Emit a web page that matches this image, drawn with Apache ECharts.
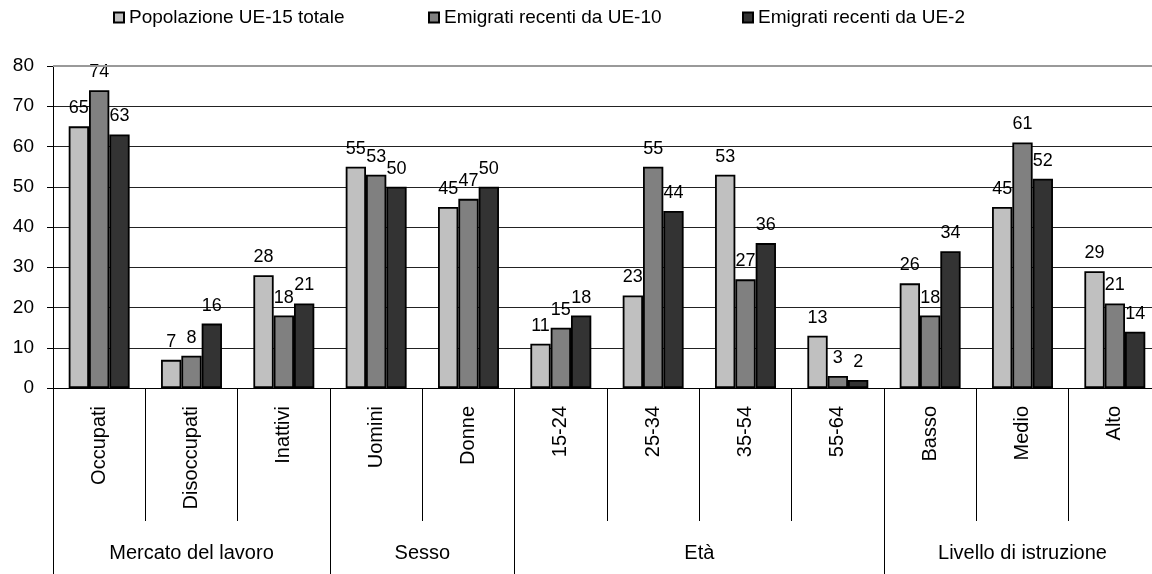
<!DOCTYPE html>
<html>
<head>
<meta charset="utf-8">
<script src="https://cdn.jsdelivr.net/npm/echarts@6/dist/echarts.min.js"></script>
<style>
html,body{margin:0;padding:0;background:#fff;}
#chart{width:1152px;height:574px;}
</style>
</head>
<body>
<div id="chart"></div>
<script>
// ---- data ----
var categories = ['Occupati','Disoccupati','Inattivi','Uomini','Donne','15-24','25-34','35-54','55-64','Basso','Medio','Alto'];
var groupNames = ['Mercato del lavoro','Sesso','Età','Livello di istruzione'];
var groupSizes = [3, 2, 4, 3];
var seriesNames = ['Popolazione UE-15 totale','Emigrati recenti da UE-10','Emigrati recenti da UE-2'];
var popUE15 = [65, 7, 28, 55, 45, 11, 23, 53, 13, 26, 45, 29];
var emigUE10 = [74, 8, 18, 53, 47, 15, 55, 27, 3, 18, 61, 21];
var emigUE2 = [63, 16, 21, 50, 50, 18, 44, 36, 2, 34, 52, 14];
var yMin = 0, yMax = 80, yStep = 10;

// ---- build group axis slots (half-category resolution) ----
var totalCats = 0;
for (var t = 0; t < groupSizes.length; t++) totalCats += groupSizes[t];
var slotLabels = [];
for (var k = 0; k <= totalCats * 2; k++) slotLabels.push('');
var boundarySlots = { 0: true };
for (var g = 0, p = 0; g < groupNames.length; g++) {
  slotLabels[p * 2 + groupSizes[g]] = groupNames[g];
  p += groupSizes[g];
  boundarySlots[p * 2] = true;
}

var FONT = 'Liberation Sans, Arial, sans-serif';
var colors = ['#c0c0c0', '#808080', '#333333'];
var values = [popUE15, emigUE10, emigUE2];

var series = values.map(function (v, i) {
  var s = {
    name: seriesNames[i],
    type: 'bar',
    data: v,
    barGap: '0%',
    barCategoryGap: '34%',
    itemStyle: { color: colors[i], borderColor: '#000', borderWidth: 1.8 },
    label: { show: true, position: 'top', distance: 9, color: '#000', fontSize: 18, fontFamily: FONT },
    emphasis: { disabled: true },
    animation: false
  };
  if (i === 0) {
    s.markLine = {
      silent: true, symbol: 'none', animation: false,
      label: { show: false },
      lineStyle: { color: '#999', width: 2, type: 'solid' },
      data: [{ yAxis: yMax }]
    };
  }
  return s;
});

var legendLefts = [113, 428, 742];
var legends = seriesNames.map(function (n, i) {
  return {
    data: [n], left: legendLefts[i], top: 8, padding: 0,
    icon: 'rect', itemWidth: 10, itemHeight: 10,
    textStyle: { color: '#000', fontSize: 19, fontFamily: FONT },
    selectedMode: false
  };
});

var chart = echarts.init(document.getElementById('chart'), null, { renderer: 'canvas' });
chart.setOption({
  animation: false,
  textStyle: { fontFamily: FONT },
  legend: legends,
  grid: { left: 53, right: -9, top: 66, bottom: 186, containLabel: false, outerBoundsMode: 'none' },
  xAxis: [
    {
      type: 'category', data: categories, position: 'bottom',
      axisLine: { show: true, lineStyle: { color: '#000', width: 1 } },
      axisTick: { show: true, interval: 0, length: 133, lineStyle: { color: '#000', width: 1 } },
      axisLabel: { interval: 0, rotate: 90, margin: 18, color: '#000', fontSize: 20, fontFamily: FONT },
      splitLine: { show: false }
    },
    {
      type: 'category', data: slotLabels, position: 'bottom', offset: 133, boundaryGap: false,
      axisLine: { show: false },
      axisTick: {
        show: true, length: 60, lineStyle: { color: '#000', width: 1 },
        interval: function (idx) { return !!boundarySlots[idx]; }
      },
      axisLabel: { interval: 0, margin: 22, color: '#000', fontSize: 20, fontFamily: FONT },
      splitLine: { show: false }
    }
  ],
  yAxis: {
    type: 'value', min: yMin, max: yMax, interval: yStep,
    axisLine: { show: true, lineStyle: { color: '#000', width: 1 } },
    axisTick: { show: true, length: 6, lineStyle: { color: '#000' } },
    axisLabel: { margin: 19, color: '#000', fontSize: 19, fontFamily: FONT },
    splitLine: { show: true, lineStyle: { color: '#222', width: 1 } }
  },
  series: series
});
</script>
</body>
</html>
